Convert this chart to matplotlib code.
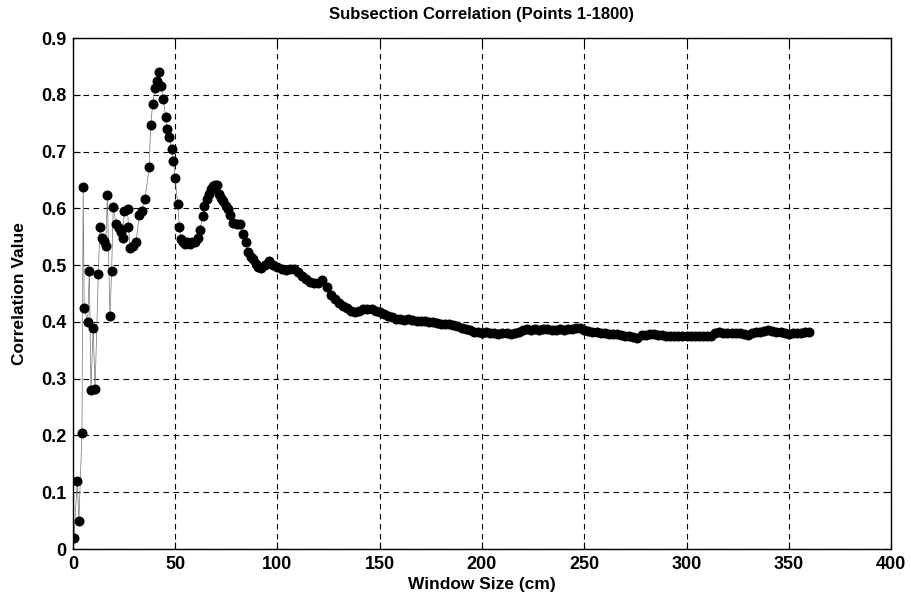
import matplotlib
matplotlib.use("Agg")
import matplotlib.pyplot as plt

plt.rcParams['font.family'] = ['Liberation Sans', 'DejaVu Sans']

# window size (cm) and correlation
window_cm = [0.5, 2.1, 2.9, 4.4, 5.0, 5.5, 7.2, 8.0, 8.8, 9.9, 10.8, 12.4, 13.2, 14.0,
             15.2, 16.0, 16.8, 18.1, 18.9, 19.7, 21.0, 22.5, 23.5, 24.3, 25.1, 26.7,
             27.1, 27.9, 29.2, 30.8, 32.4, 33.6, 35.2, 37.3, 38.0, 39.0, 40.1, 41.2,
             41.9, 43.0, 44.2, 45.3, 46.1, 47.1, 48.3, 49.1, 49.9, 51.2, 52.0, 52.8,
             54.0, 55.0, 56.0, 57.0, 58.0, 59.7, 61.0, 62.1, 63.4, 64.1, 65.4, 66.5,
             67.5, 68.6, 69.5, 70.3, 71.6, 72.5, 73.5, 74.8, 75.9, 77.0, 78.4, 80.0,
             81.7, 83.3, 84.6, 85.7, 87.0, 88.2, 89.5, 90.6,
             92, 94, 96, 98, 100, 102, 104, 106, 108, 110, 112, 114, 116, 118, 120,
             122, 124, 126, 128, 130, 132, 134, 136, 138, 140, 142, 144, 146, 148, 150,
             152, 154, 156, 158, 160, 162, 164, 166, 168, 170, 172, 174, 176, 178, 180,
             182, 184, 186, 188, 190, 192, 194, 196, 198, 200, 202, 204, 206, 208, 210,
             212, 214, 216, 218, 220, 222, 224, 226, 228, 230, 232, 234, 236, 238, 240,
             242, 244, 246, 248, 250, 252, 254, 256, 258, 260, 262, 264, 266, 268, 270,
             272, 274, 276, 278, 280, 282, 284, 286, 288, 290, 292, 294, 296, 298, 300,
             302, 304, 306, 308, 310, 312, 314, 316, 318, 320, 322, 324, 326, 328, 330,
             332, 334, 336, 338, 340, 342, 344, 346, 348, 350, 352, 354, 356, 358, 360]
corr = [0.020, 0.120, 0.050, 0.205, 0.637, 0.425, 0.400, 0.490, 0.280, 0.390, 0.282,
        0.485, 0.568, 0.548, 0.543, 0.533, 0.623, 0.410, 0.490, 0.603, 0.573, 0.565,
        0.558, 0.547, 0.596, 0.599, 0.568, 0.531, 0.534, 0.540, 0.588, 0.596, 0.617,
        0.673, 0.747, 0.784, 0.812, 0.825, 0.841, 0.815, 0.792, 0.761, 0.739, 0.726,
        0.704, 0.684, 0.654, 0.608, 0.568, 0.546, 0.540, 0.538, 0.540, 0.538, 0.540,
        0.540, 0.548, 0.562, 0.587, 0.605, 0.616, 0.625, 0.635, 0.640, 0.641, 0.641,
        0.625, 0.618, 0.613, 0.605, 0.599, 0.588, 0.575, 0.573, 0.572, 0.554, 0.540,
        0.523, 0.515, 0.511, 0.502, 0.496,
        0.495, 0.500, 0.507, 0.500, 0.496, 0.494, 0.492, 0.493, 0.494, 0.488, 0.481,
        0.475, 0.471, 0.468, 0.468, 0.474, 0.462, 0.448, 0.440, 0.433, 0.428, 0.424,
        0.420, 0.418, 0.419, 0.422, 0.423, 0.422, 0.420, 0.418, 0.414, 0.411, 0.408,
        0.405, 0.406, 0.404, 0.405, 0.404, 0.402, 0.401, 0.401, 0.400, 0.399, 0.398,
        0.397, 0.397, 0.396, 0.394, 0.392, 0.389, 0.387, 0.385, 0.383, 0.382, 0.381,
        0.382, 0.381, 0.380, 0.379, 0.381, 0.380, 0.379, 0.380, 0.382, 0.385, 0.387,
        0.386, 0.387, 0.386, 0.388, 0.387, 0.386, 0.386, 0.387, 0.386, 0.387, 0.388,
        0.390, 0.389, 0.385, 0.384, 0.383, 0.382, 0.381, 0.380, 0.379, 0.379, 0.378,
        0.377, 0.376, 0.375, 0.374, 0.372, 0.377, 0.377, 0.378, 0.378, 0.377, 0.377,
        0.376, 0.376, 0.376, 0.376, 0.376, 0.376, 0.376, 0.375, 0.375, 0.375, 0.375,
        0.376, 0.380, 0.382, 0.381, 0.380, 0.381, 0.381, 0.380, 0.379, 0.377, 0.380,
        0.382, 0.383, 0.384, 0.385, 0.384, 0.383, 0.382, 0.380, 0.379, 0.380, 0.381,
        0.381, 0.382, 0.382]

xticks = [0, 50, 100, 150, 200, 250, 300, 350, 400]
yticks = [0, 0.1, 0.2, 0.3, 0.4, 0.5, 0.6, 0.7, 0.8, 0.9]
ytick_labels = ['0', '0.1', '0.2', '0.3', '0.4', '0.5', '0.6', '0.7', '0.8', '0.9']

fig = plt.figure(figsize=(9.12, 6.04), dpi=100)
ax = fig.add_axes([0.080, 0.091, 0.897, 0.846])

# thin connecting line, then the dots
ax.plot(window_cm, corr, color='0.45', lw=0.5, zorder=2)
ax.plot(window_cm, corr, 'o', color='black', markersize=7.2, markeredgewidth=0, zorder=3)

ax.set_xlim(0, 400)
ax.set_ylim(0, 0.9)
ax.set_xticks(xticks)
ax.set_yticks(yticks)
ax.set_yticklabels(ytick_labels)

ax.grid(True, color='black', linestyle=(0, (5, 4)), linewidth=0.8)
ax.set_axisbelow(True)
for s in ax.spines.values():
    s.set_linewidth(1.0)
    s.set_color('black')
ax.tick_params(direction='in', top=True, right=True, length=5, width=0.8,
               labelsize=13, pad=5)
for lab in ax.get_xticklabels() + ax.get_yticklabels():
    lab.set_fontweight('bold')

ax.set_title('Subsection Correlation (Points 1-1800)', fontsize=12, fontweight='bold', pad=14)
ax.set_xlabel('Window Size (cm)', fontsize=12.5, fontweight='bold', labelpad=3)
ax.set_ylabel('Correlation Value', fontsize=12.5, fontweight='bold', labelpad=10)

fig.savefig('out.png', dpi=100)
